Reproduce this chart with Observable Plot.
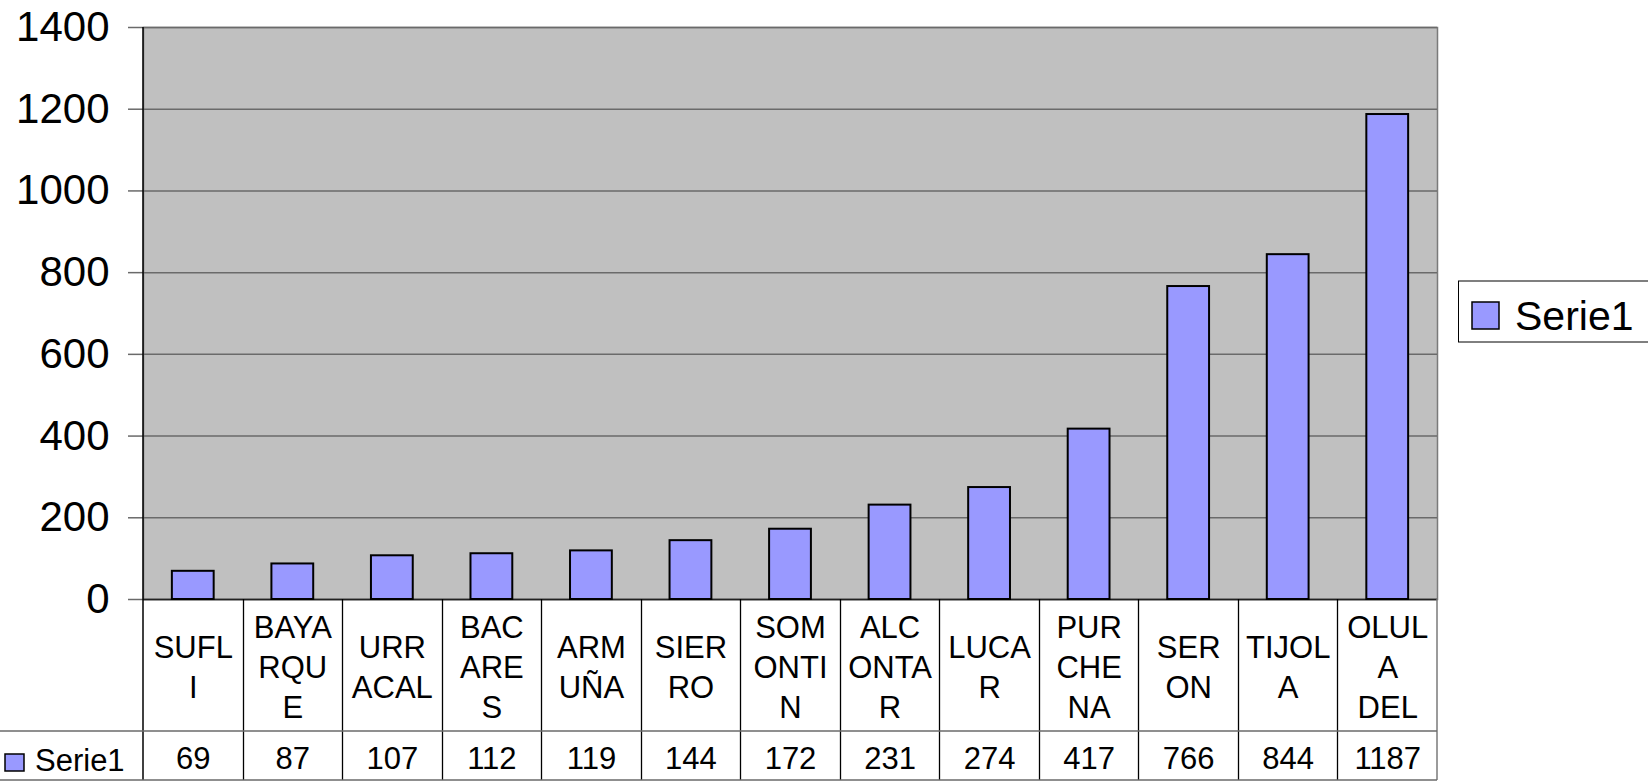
<!DOCTYPE html>
<html>
<head>
<meta charset="utf-8">
<script src="https://cdn.jsdelivr.net/npm/d3@7"></script>
<script src="https://cdn.jsdelivr.net/npm/@observablehq/plot@0.6"></script>
<style>
  html, body { margin: 0; padding: 0; background: white; }
  svg { display: block; }
</style>
</head>
<body>
<div id="chart"></div>
<script>
// ---- data ----
const categories = ["SUFLI", "BAYARQUE", "URRACAL", "BACARES", "ARMUÑA", "SIERRO", "SOMONTIN", "ALCONTAR", "LUCAR", "PURCHENA", "SERON", "TIJOLA", "OLULA DEL"];
const tickLabels = ["SUFL\nI", "BAYA\nRQU\nE", "URR\nACAL", "BAC\nARE\nS", "ARM\nUÑA", "SIER\nRO", "SOM\nONTI\nN", "ALC\nONTA\nR", "LUCA\nR", "PUR\nCHE\nNA", "SER\nON", "TIJOL\nA", "OLUL\nA\nDEL"];
const values = [69, 87, 107, 112, 119, 144, 172, 231, 274, 417, 766, 844, 1187];
const yTicks = [0, 200, 400, 600, 800, 1000, 1200, 1400];
const seriesName = "Serie1";

const data = categories.map((c, i) => ({cat: c, label: tickLabels[i], value: values[i]}));

const FONT = "'Liberation Sans', Arial, sans-serif";
const BAR = "#9999FF";

const plot = Plot.plot({
  width: 1648,
  height: 784,
  marginLeft: 143,
  marginRight: 211,
  marginTop: 27,
  marginBottom: 185,
  style: {fontFamily: FONT, background: "white", color: "black", overflow: "visible"},
  x: {domain: categories, paddingInner: 0.58, paddingOuter: 0.29, round: false, axis: null},
  y: {domain: [0, 1400], axis: null},
  marks: [
    Plot.frame({fill: "#C0C0C0", stroke: "#7a7a7a", strokeWidth: 1.5}),
    Plot.gridY(yTicks, {stroke: "#6a6a6a", strokeOpacity: 1, strokeWidth: 1.5}),
    Plot.axisY(yTicks, {fontSize: 42, tickSize: 15, tickPadding: 19, stroke: "#6a6a6a", strokeWidth: 1.5, label: null, tickFormat: d => String(d)}),
    Plot.ruleY([0], {stroke: "#222", strokeWidth: 1.5}),
    Plot.barY(data, {x: "cat", y: "value", fill: BAR, stroke: "black", strokeWidth: 2}),
    Plot.text(data, {x: "cat", frameAnchor: "bottom", text: "label", dy: 66, fontSize: 31, lineHeight: 1.29, lineAnchor: "middle", fill: "black"}),
    Plot.text(data, {x: "cat", frameAnchor: "bottom", text: d => String(d.value), dy: 160, fontSize: 31, lineAnchor: "middle", fill: "black"})
  ]
});

document.getElementById("chart").appendChild(plot);

// ---- data table grid lines & legends, positioned from Plot's scales ----
const svg = d3.select(plot);
const xs = plot.scale("x");
const ys = plot.scale("y");
const y0 = ys.apply(0);
const yTop = ys.apply(1400);
const gap = (xs.step - xs.bandwidth) / 2;
const leftX = xs.apply(categories[0]) - gap;
const rightX = xs.apply(categories[categories.length - 1]) + xs.bandwidth + gap;
const rowSplit = y0 + 132;
const tableBottom = y0 + 181;

const g = svg.append("g").attr("fill", "none");
// column separators
categories.forEach((c, i) => {
  if (i === 0) return;
  const xx = Math.round(xs.apply(c) - gap) + 0.5;
  g.append("line").attr("x1", xx).attr("x2", xx).attr("y1", y0).attr("y2", tableBottom)
    .attr("stroke", "black").attr("stroke-width", 1.3);
});
// right edge of table
g.append("line").attr("x1", rightX).attr("x2", rightX).attr("y1", y0).attr("y2", tableBottom)
  .attr("stroke", "#7a7a7a").attr("stroke-width", 1.5);
// left axis line (black), through the table
g.append("line").attr("x1", leftX).attr("x2", leftX).attr("y1", yTop).attr("y2", tableBottom)
  .attr("stroke", "black").attr("stroke-width", 1.5);
// row lines
[rowSplit, tableBottom].forEach(yy => {
  g.append("line").attr("x1", 0).attr("x2", rightX).attr("y1", yy).attr("y2", yy)
    .attr("stroke", "#6a6a6a").attr("stroke-width", 1.5);
});

// legend key inside the table
const lk = svg.append("g").attr("text-anchor", "start");
lk.append("rect").attr("x", 5).attr("y", 754).attr("width", 19).attr("height", 17)
  .attr("fill", BAR).attr("stroke", "black").attr("stroke-width", 1.5);
lk.append("text").attr("x", 35).attr("y", 771).attr("font-size", 31).attr("font-family", FONT)
  .attr("text-anchor", "start").attr("fill", "black").text(seriesName);

// right legend
const lg = svg.append("g").attr("text-anchor", "start");
lg.append("rect").attr("x", 1458.5).attr("y", 281).attr("width", 200).attr("height", 61)
  .attr("fill", "white").attr("stroke", "black").attr("stroke-width", 1);
lg.append("rect").attr("x", 1472).attr("y", 302).attr("width", 27).attr("height", 27)
  .attr("fill", BAR).attr("stroke", "black").attr("stroke-width", 1.5);
lg.append("text").attr("x", 1515).attr("y", 330).attr("font-size", 41).attr("font-family", FONT)
  .attr("text-anchor", "start").attr("fill", "black").text(seriesName);
</script>
</body>
</html>
